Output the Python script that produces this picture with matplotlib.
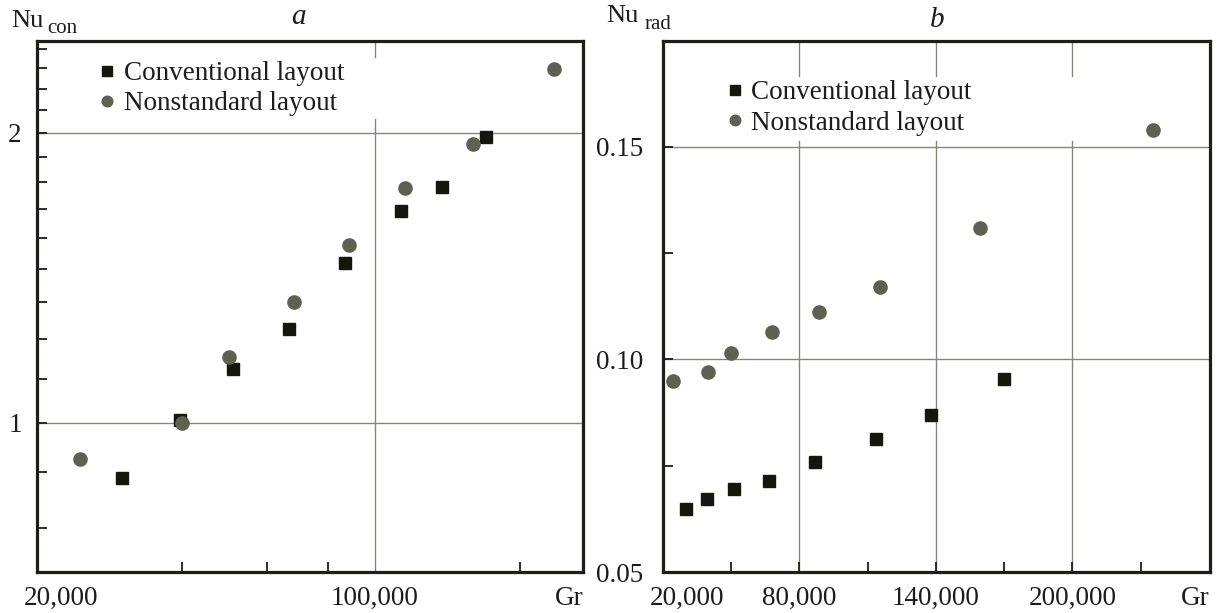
import matplotlib.pyplot as plt
from matplotlib.ticker import NullFormatter, NullLocator

plt.rcParams["font.family"] = ["Liberation Serif", "DejaVu Serif"]

# Gr values (shared x for both panels)
gr_conventional = [30000, 39500, 51000, 66500, 87000, 113500, 138000, 170000]
gr_nonstandard = [24500, 40000, 50000, 68000, 88500, 115500, 159500, 235500]

# panel a: convective Nusselt number
nu_con_conventional = [0.877, 1.007, 1.136, 1.252, 1.464, 1.66, 1.758, 1.98]
nu_con_nonstandard = [0.918, 1.0, 1.17, 1.335, 1.528, 1.754, 1.949, 2.33]

# panel b: radiative Nusselt number
nu_rad_conventional = [0.0648, 0.0672, 0.0695, 0.0713, 0.0758, 0.0812, 0.0868, 0.0954]
nu_rad_nonstandard = [0.0948, 0.0969, 0.1014, 0.1064, 0.1111, 0.1171, 0.1308, 0.154]

series_labels = ["Conventional layout", "Nonstandard layout"]

left_x_labels = [(20000, "20,000"), (100000, "100,000")]
right_x_labels = [(20000, "20,000"), (80000, "80,000"), (140000, "140,000"), (200000, "200,000")]
left_y_labels = [(1, "1"), (2, "2")]
right_y_labels = [(0.05, "0.05"), (0.10, "0.10"), (0.15, "0.15")]

SQ_COLOR = "#16160f"
CI_COLOR = "#5e6152"
GRID = "#85857a"
INK = "#1e1e18"
TXT = "#1c1c1c"
FS = 19.5

fig = plt.figure(figsize=(12.19, 6.13), dpi=100)
ax_a = fig.add_axes([37 / 1219, 41 / 613, 546 / 1219, 531 / 613])
ax_b = fig.add_axes([663 / 1219, 41 / 613, 547 / 1219, 531 / 613])


def style_axes(ax, ypad):
    for sp in ax.spines.values():
        sp.set_linewidth(2.3)
        sp.set_color(INK)
    ax.tick_params(which="both", direction="in", length=7, width=1.3, color=INK,
                   labelsize=FS, labelcolor=TXT, pad=ypad)
    ax.tick_params(axis="x", which="both", labelbottom=False)


def draw_points(ax, y_conv, y_non):
    ax.plot(gr_conventional, y_conv, ls="none", marker="s", ms=8.5, color=SQ_COLOR,
            label=series_labels[0], zorder=3)
    ax.plot(gr_nonstandard, y_non, ls="none", marker="o", ms=9.5, color=CI_COLOR,
            label=series_labels[1], zorder=3)


def x_labels(ax, items, first_shift):
    for i, (val, txt) in enumerate(items):
        dx = first_shift if i == 0 else 0
        ax.annotate(txt, xy=(val, 0), xycoords=ax.get_xaxis_transform(),
                    xytext=(dx, -24), textcoords="offset points",
                    ha="center", va="baseline", fontsize=FS, color=TXT)
    ax.annotate("Gr", xy=(1, 0), xycoords="axes fraction", xytext=(0, -24),
                textcoords="offset points", ha="right", va="baseline",
                fontsize=FS, color=TXT)


def legend(ax, anchor):
    ax.legend(loc="center left", bbox_to_anchor=anchor, frameon=False, borderpad=0,
              borderaxespad=0, handlelength=0.6, handletextpad=0.3, labelspacing=0.2,
              fontsize=FS, markerscale=0.8, labelcolor=TXT)


# ---- panel a (log-log) ----
ax = ax_a
ax.set_xscale("log")
ax.set_yscale("log")
ax.set_xlim(20000, 270000)
ax.set_ylim(0.70, 2.49)
for yv in (1, 2):
    ax.axhline(yv, color=GRID, lw=1.0, zorder=1)
ax.axvline(100000, ymin=0, ymax=0.853, color=GRID, lw=1.0, zorder=1)
ax.axvline(100000, ymin=0.97, ymax=1, color=GRID, lw=1.0, zorder=1)
draw_points(ax, nu_con_conventional, nu_con_nonstandard)
ax.set_xticks([40000, 60000, 80000, 200000])
ax.xaxis.set_minor_locator(NullLocator())
ax.set_yticks([v for v, _ in left_y_labels], [t for _, t in left_y_labels])
ax.set_yticks([1 + k / 9 for k in range(-2, 14) if k not in (0, 9)], minor=True)
ax.yaxis.set_minor_formatter(NullFormatter())
style_axes(ax, 11)
x_labels(ax, left_x_labels, 17)
legend(ax, (0.114, 0.91))

# ---- panel b (linear) ----
ax = ax_b
ax.set_xlim(20000, 260500)
ax.set_ylim(0.05, 0.1748)
for yv in (0.10, 0.15):
    ax.axhline(yv, color=GRID, lw=1.0, zorder=1)
for xv in (80000, 140000, 200000):
    ax.axvline(xv, ymin=0, ymax=0.812, color=GRID, lw=1.0, zorder=1)
    ax.axvline(xv, ymin=0.934, ymax=1, color=GRID, lw=1.0, zorder=1)
draw_points(ax, nu_rad_conventional, nu_rad_nonstandard)
ax.set_xticks([20000, 80000, 140000, 200000])
ax.set_xticks([50000, 110000, 170000, 230000], minor=True)
ax.set_yticks([v for v, _ in right_y_labels], [t for _, t in right_y_labels])
ax.set_yticks([0.075, 0.125], minor=True)
style_axes(ax, 14)
x_labels(ax, right_x_labels, 17)
legend(ax, (0.116, 0.874))

# axis titles and panel letters
fig.text(11 / 1219, 1 - 27 / 613, "Nu", fontsize=19, color=TXT, va="baseline")
fig.text(47 / 1219, 1 - 33 / 613, "con", fontsize=15, color=TXT, va="baseline")
fig.text(606 / 1219, 1 - 22 / 613, "Nu", fontsize=19, color=TXT, va="baseline")
fig.text(645 / 1219, 1 - 29 / 613, "rad", fontsize=15, color=TXT, va="baseline")
fig.text(298 / 1219, 1 - 24 / 613, "a", fontsize=21, style="italic", color=TXT,
         ha="center", va="baseline")
fig.text(937 / 1219, 1 - 27 / 613, "b", fontsize=21, style="italic", color=TXT,
         ha="center", va="baseline")

fig.savefig("out.png", dpi=100)
